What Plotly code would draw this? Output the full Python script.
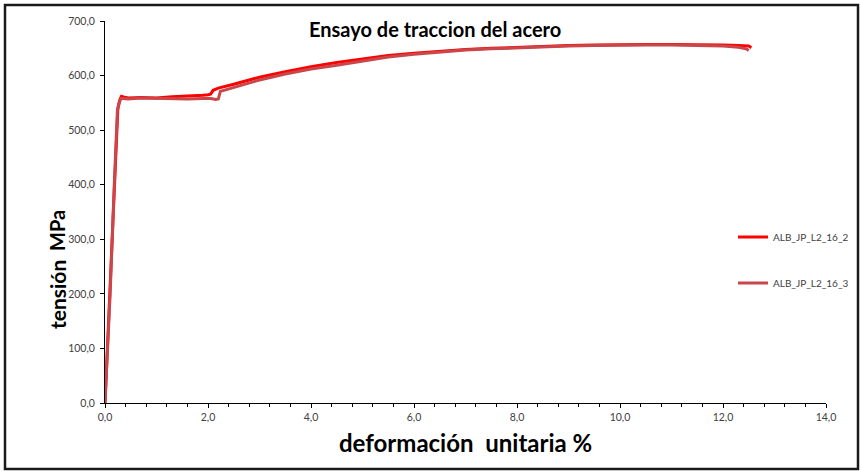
import plotly.graph_objects as go

# ---- data ----
series_names = ["ALB_JP_L2_16_2", "ALB_JP_L2_16_3"]

strain_2 = [0, 0.1, 0.19, 0.25, 0.29, 0.32, 0.36, 0.45, 0.7, 1.0, 1.3, 1.6, 1.9, 2.0, 2.05,
            2.1, 2.2, 2.5, 3.0, 3.5, 3.8, 4.0, 4.5, 5.0, 5.5, 6.0, 6.5, 7.0, 7.5, 8.0, 8.5,
            9.0, 9.5, 10.0, 10.5, 11.0, 11.5, 12.0, 12.3, 12.5, 12.55]
stress_2 = [0, 210, 410, 540, 556, 562, 561, 559, 560, 559, 561, 562, 564, 565, 566,
            573, 577, 584, 597, 607, 613, 616, 624, 631, 637, 641, 645, 648, 650, 652, 654,
            655, 656, 657, 657, 657, 657, 656, 655, 654, 651]

strain_3 = [0, 0.1, 0.18, 0.24, 0.28, 0.31, 0.35, 0.45, 0.7, 1.0, 1.3, 1.6, 1.9, 2.05, 2.15,
            2.2, 2.24, 2.5, 3.0, 3.5, 3.8, 3.95, 4.0, 4.5, 5.0, 5.5, 6.0, 6.5, 7.0, 7.5, 8.0,
            8.5, 9.0, 9.5, 10.0, 10.5, 11.0, 11.5, 12.0, 12.3, 12.45, 12.5]
stress_3 = [0, 200, 400, 535, 552, 558, 558, 557, 559, 558, 558, 557, 558, 558, 556,
            557, 571, 578, 592, 603, 609, 612, 612, 619, 627, 634, 639, 643, 647, 649, 651,
            653, 654, 655, 656, 656, 656, 655, 654, 652, 649, 646]

x_ticks = [0, 2, 4, 6, 8, 10, 12, 14]
y_ticks = [0, 100, 200, 300, 400, 500, 600, 700]

title_text = "Ensayo de traccion del acero"
x_title = "deformación\u00a0\u00a0unitaria %"
y_title_a = "tensión"
y_title_b = "MPa"

FONT = "Lato, 'Open Sans', sans-serif"

# pixel layout helpers (paper spans x 105..861, y 21..403)
L, R, T, B = 105, 861, 21, 403
PW, PH = R - L, B - T
def px2x(px): return (px - L) / PW
def py2y(py): return (B - py) / PH

fig = go.Figure()
fig.add_trace(go.Scatter(x=strain_2, y=stress_2, mode="lines", name=series_names[0],
                         line=dict(color="#FF0000", width=3), legend="legend"))
fig.add_trace(go.Scatter(x=strain_3, y=stress_3, mode="lines", name=series_names[1],
                         line=dict(color="#C9474A", width=3), legend="legend2"))

axis_common = dict(showgrid=False, zeroline=False, showline=True, linecolor="black",
                   linewidth=1, ticks="outside", tickcolor="black", ticklen=4,
                   tickfont=dict(family=FONT, size=10.5, color="#404040"))

legend_common = dict(x=px2x(733), xanchor="left", yanchor="middle",
                     bgcolor="rgba(0,0,0,0)",
                     font=dict(family=FONT, size=10, color="#404040"))

fig.update_layout(
    width=861, height=472,
    margin=dict(l=L, r=0, t=T, b=472 - B, autoexpand=False),
    paper_bgcolor="white", plot_bgcolor="white",
    separators=",.",
    font=dict(family=FONT),
    xaxis=dict(range=[0, 14], tickvals=x_ticks, tickformat=".1f",
               domain=[0, px2x(826)],
               minor=dict(ticks="outside", dtick=0.4, ticklen=3, tickcolor="black"),
               **axis_common),
    yaxis=dict(range=[0, 700], tickvals=y_ticks, tickformat=".1f",
               ticklabelstandoff=3, **axis_common),
    legend=dict(y=py2y(237), **legend_common),
    legend2=dict(y=py2y(283), **legend_common),
    showlegend=True,
)

def ann(text, px, py, size, angle=0):
    fig.add_annotation(text="<b>" + text + "</b>", xref="paper", yref="paper",
                       x=px2x(px), y=py2y(py),
                       xanchor="center", yanchor="middle", showarrow=False,
                       textangle=angle, font=dict(family=FONT, size=size, color="black"))

ann(title_text, 435, 29, 20)
ann(x_title, 465, 443, 24)
ann(y_title_a, 57, 295, 21, -90)
ann(y_title_b, 57, 231, 20, -90)

# outer chart frame
fig.add_shape(type="rect", xref="paper", yref="paper",
              x0=px2x(5), x1=px2x(858), y0=py2y(469), y1=py2y(5),
              line=dict(color="#1a1a1a", width=2.5), fillcolor="rgba(0,0,0,0)")

fig.write_html("out.html")
